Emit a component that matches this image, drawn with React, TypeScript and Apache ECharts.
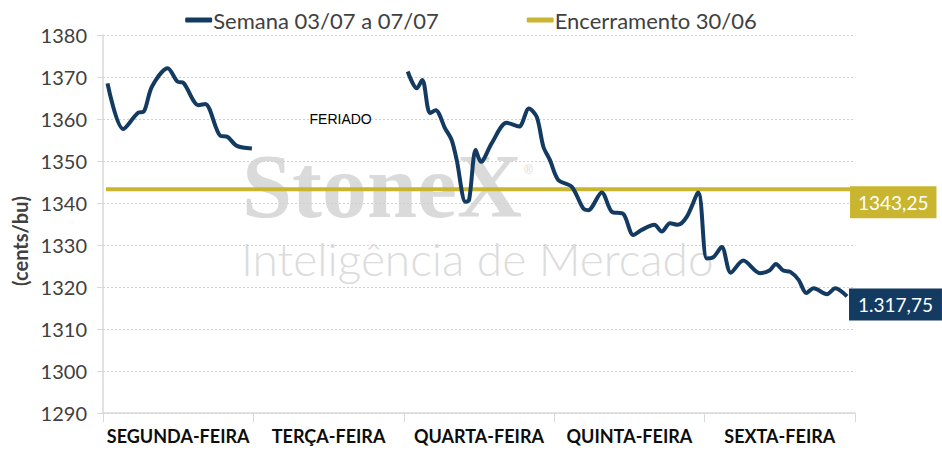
import { useEffect, useRef } from "react";
import * as echarts from "echarts";

// dias da semana (eixo x)
const dias = ["SEGUNDA-FEIRA", "TERÇA-FEIRA", "QUARTA-FEIRA", "QUINTA-FEIRA", "SEXTA-FEIRA"];

// [fração do dia, preço] por dia
const segunda: [number, number][] = [
  [0.03, 1368.5], [0.135, 1357.6], [0.235, 1361.5], [0.27, 1361.7], [0.325, 1367.7],
  [0.43, 1372.1], [0.495, 1368.9], [0.535, 1368.6], [0.635, 1363.3], [0.68, 1363.6],
  [0.78, 1356], [0.825, 1355.8], [0.89, 1353.6], [0.99, 1353.0],
];
const quarta: [number, number][] = [
  [0.026, 1371.3], [0.086, 1367.3], [0.123, 1369.3], [0.174, 1361.4], [0.212, 1362.1],
  [0.274, 1357.8], [0.318, 1355], [0.352, 1350.2], [0.41, 1340.3], [0.434, 1340.7],
  [0.478, 1352.6], [0.513, 1349.8], [0.584, 1354.2], [0.684, 1359.1], [0.766, 1358.2],
  [0.832, 1362.5], [0.884, 1360.5], [0.928, 1353.4], [0.972, 1350.2],
];
const quinta: [number, number][] = [
  [0.027, 1345.5], [0.116, 1343.9], [0.193, 1338.7], [0.227, 1338.3], [0.316, 1342.5],
  [0.383, 1337.9], [0.459, 1337.4], [0.526, 1332.4], [0.582, 1333.6], [0.666, 1334.8],
  [0.715, 1333.2], [0.77, 1335.2], [0.821, 1334.8], [0.881, 1336.7], [0.958, 1342.5],
];
const sexta: [number, number][] = [
  [0.014, 1326.8], [0.058, 1327.1], [0.114, 1329.5], [0.174, 1323.4], [0.257, 1326.3],
  [0.368, 1323.3], [0.434, 1324], [0.474, 1325.5], [0.523, 1323.9], [0.57, 1323.6],
  [0.625, 1321.7], [0.676, 1318.6], [0.725, 1319.7], [0.814, 1318.3], [0.869, 1319.7],
  [0.947, 1317.75],
];

const encerramento = 1343.25;
const encerramentoInicio = 0.02;
const encerramentoFim = 4.967;

const NAVY = "#133a61";
const GOLD = "#c9b52f";
const FONT = "Lato, 'Open Sans', sans-serif";

const App = () => {
  const chartRef = useRef<HTMLDivElement | null>(null);

  useEffect(() => {
    if (!chartRef.current) return;
    document.body.style.margin = "0";
    const chart = echarts.init(chartRef.current, null, { renderer: "svg" });

    const semana: any[] = [];
    const dia = (pts: [number, number][], idx: number) =>
      pts.forEach(([f, v]) => semana.push([idx + f, v]));
    dia(segunda, 0);
    semana.push([1.5, "-"]); // feriado
    dia(quarta, 2);
    dia(quinta, 3);
    dia(sexta, 4);

    chart.setOption({
      animation: false,
      textStyle: { fontFamily: FONT },
      grid: { left: 103, right: 87, top: 35, bottom: 38 },
      legend: {
        top: 4,
        left: "center",
        itemGap: 88,
        itemWidth: 27,
        itemHeight: 5,
        icon: "roundRect",
        textStyle: { fontSize: 22, color: "#404040", fontFamily: FONT, padding: [0, 0, 0, -4] },
        data: ["Semana 03/07 a 07/07", "Encerramento 30/06"],
      },
      graphic: [
        {
          type: "text",
          left: 242,
          top: 141,
          z: -10,
          silent: true,
          style: {
            text: "StoneX",
            font: "bold 90px 'Liberation Serif', 'DejaVu Serif', serif",
            fill: "#dadada",
          },
        },
        {
          type: "text",
          left: 524,
          top: 164,
          z: -10,
          silent: true,
          style: { text: "®", font: "12px sans-serif", fill: "#d9d9d9" },
        },
        {
          type: "text",
          left: 241,
          top: 235,
          z: -10,
          silent: true,
          style: {
            text: "Inteligência de Mercado",
            font: "300 46px Lato, sans-serif",
            fill: "#dcdcdc",
          },
        },
      ],
      xAxis: [
        {
          type: "value",
          min: 0,
          max: 5,
          show: false,
        },
        {
          type: "category",
          data: dias,
          position: "bottom",
          boundaryGap: true,
          axisLine: { lineStyle: { color: "#d9d9d9", width: 1.5 } },
          axisTick: { show: true, alignWithLabel: false, length: 9, lineStyle: { color: "#d9d9d9" } },
          axisLabel: {
            interval: 0,
            margin: 14,
            fontSize: 18,
            fontWeight: "bold",
            color: "#0d0d0d",
            fontFamily: FONT,
          },
        },
      ],
      yAxis: {
        type: "value",
        min: 1290,
        max: 1380,
        interval: 10,
        name: "(cents/bu)",
        nameLocation: "middle",
        nameGap: 72,
        nameTextStyle: {
          fontSize: 20,
          fontWeight: "bold",
          color: "#404040",
          fontFamily: FONT,
          padding: [0, 34, 0, 0],
        },
        axisLine: { show: true, lineStyle: { color: "#d9d9d9", width: 1.5 } },
        axisTick: { show: true, length: 6, lineStyle: { color: "#d9d9d9" } },
        axisLabel: {
          fontSize: 20,
          color: "#404040",
          margin: 16,
          fontFamily: FONT,
          formatter: (v: number) => String(v),
        },
        splitLine: { lineStyle: { color: "#d0d0d0", type: [2, 2] } },
      },
      series: [
        {
          name: "Semana 03/07 a 07/07",
          type: "line",
          xAxisIndex: 0,
          data: semana,
          smooth: 0.3,
          connectNulls: false,
          showSymbol: false,
          symbol: "none",
          lineStyle: { color: NAVY, width: 4 },
          itemStyle: { color: NAVY },
          z: 3,
          endLabel: {
            show: true,
            formatter: () => "1.317,75",
            backgroundColor: NAVY,
            color: "#ffffff",
            fontSize: 19,
            fontFamily: FONT,
            padding: [7, 9, 6, 9],
            distance: 2,
            offset: [0, 8],
          },
          markPoint: {
            symbol: "circle",
            symbolSize: 1,
            silent: true,
            itemStyle: { color: "rgba(0,0,0,0)" },
            label: {
              show: true,
              position: "inside",
              formatter: "FERIADO",
              color: "#000",
              fontSize: 14,
              fontFamily: "Arial, 'Liberation Sans', sans-serif",
            },
            data: [{ coord: [1.58, 1360] }],
          },
        },
        {
          name: "Encerramento 30/06",
          type: "line",
          xAxisIndex: 0,
          data: [
            [encerramentoInicio, encerramento],
            [encerramentoFim, encerramento],
          ],
          showSymbol: false,
          symbol: "none",
          lineStyle: { color: GOLD, width: 4 },
          itemStyle: { color: GOLD },
          z: 2,
          endLabel: {
            show: true,
            formatter: () => "1343,25",
            backgroundColor: GOLD,
            color: "#ffffff",
            fontSize: 19,
            fontFamily: FONT,
            padding: [7, 8, 6, 8],
            distance: 0,
            offset: [0, 13],
          },
        },
      ],
    });

    return () => chart.dispose();
  }, []);

  return <div ref={chartRef} style={{ width: 942, height: 451 }} />;
};

export default App;
